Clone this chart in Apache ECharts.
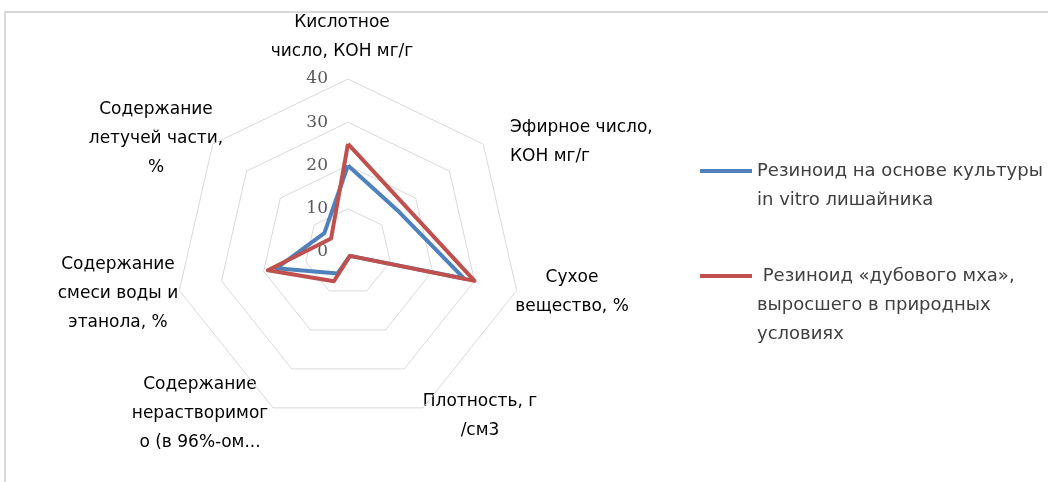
<!DOCTYPE html>
<html>
<head>
<meta charset="utf-8">
<script src="https://cdn.jsdelivr.net/npm/echarts@6/dist/echarts.min.js"></script>
<style>
  html, body { margin: 0; padding: 0; background: #ffffff; }
  #chart { width: 1048px; height: 482px; }
</style>
</head>
<body>
<div id="chart"></div>
<script>
// Radar axes, listed clockwise from the top
var categories = [
  'Кислотное\nчисло, КОН мг/г',
  'Эфирное число,\nКОН мг/г',
  'Сухое\nвещество, %',
  'Плотность, г\n/см3',
  'Содержание\nнерастворимог\nо (в 96%-ом...',
  'Содержание\nсмеси воды и\nэтанола, %',
  'Содержание\nлетучей части,\n%'
];

var seriesNames = [
  'Резиноид на основе культуры\nin vitro лишайника',
  ' Резиноид «дубового мха»,\nвыросшего в природных\nусловиях'
];

var invitroValues = [20, 15, 27.5, 1, 5.5, 17, 7];
var oakmossValues = [25, 17, 30, 1, 7.5, 19, 5];

var axisMin = 0;
var axisMax = 40;
var axisSplits = 4;

// Category label placement: [anchor x, first line centre y, align]
var labelLayout = [
  [342, 23, 'center'],
  [510, 128, 'left'],
  [572, 278, 'center'],
  [480, 402, 'center'],
  [200, 385, 'center'],
  [118, 265, 'center'],
  [156, 110, 'center']
];

var LINE_H = 29;
var LABEL_FONT = '17px "DejaVu Sans"';

// ECharts lays radar indicators out counter-clockwise, so reverse all but the first
var order = [0];
for (var i = categories.length - 1; i >= 1; i--) order.push(i);
function reorder(arr) { return order.map(function (k) { return arr[k]; }); }

var tickLabelStyle = {
  show: true,
  margin: 20,
  color: '#595959',
  fontFamily: 'DejaVu Serif',
  fontSize: 17
};

var indicators = reorder(categories).map(function (name, idx) {
  var ind = { name: name, min: axisMin, max: axisMax };
  if (idx === 0) ind.axisLabel = tickLabelStyle;
  return ind;
});

var graphics = [
  {
    type: 'rect',
    shape: { x: 5, y: 12, width: 1200, height: 600 },
    style: { fill: null, stroke: '#d9d9d9', lineWidth: 2 },
    silent: true
  }
];
categories.forEach(function (name, k) {
  var L = labelLayout[k];
  graphics.push({
    type: 'text',
    x: L[0],
    y: L[1] - LINE_H / 2,
    style: {
      text: name,
      align: L[2],
      verticalAlign: 'top',
      lineHeight: LINE_H,
      font: LABEL_FONT,
      fill: '#000000'
    },
    silent: true
  });
});

var colors = ['#4f81bd', '#c0504d'];

// Legend text is centred on its swatch; leading blank lines keep the
// swatch level with the first line of a wrapped name.
function legendFor(idx, swatchY) {
  var lines = seriesNames[idx].split('\n').length;
  var blank = new Array(lines).join('\n');
  var half = (2 * lines - 1) * LINE_H / 2;
  return {
    data: [seriesNames[idx]],
    left: 700,
    top: swatchY - half,
    padding: 0,
    icon: 'rect',
    itemWidth: 52,
    itemHeight: 4,
    selectedMode: false,
    formatter: function (name) { return blank + name; },
    textStyle: {
      fontFamily: 'DejaVu Sans',
      fontSize: 18,
      color: '#404040',
      lineHeight: LINE_H
    }
  };
}

var option = {
  animation: false,
  color: colors,
  graphic: graphics,
  legend: [
    legendFor(0, 171),
    legendFor(1, 276)
  ],
  radar: {
    center: [348, 252],
    radius: 173,
    startAngle: 90,
    shape: 'polygon',
    splitNumber: axisSplits,
    indicator: indicators,
    axisName: { show: false },
    axisLine: { show: false },
    axisTick: { show: false },
    axisLabel: { show: false },
    splitLine: { lineStyle: { color: '#d9d9d9', width: 1 } },
    splitArea: { show: false }
  },
  series: [{
    type: 'radar',
    symbol: 'none',
    data: [
      {
        name: seriesNames[0],
        value: reorder(invitroValues),
        lineStyle: { color: colors[0], width: 4 },
        itemStyle: { color: colors[0] }
      },
      {
        name: seriesNames[1],
        value: reorder(oakmossValues),
        lineStyle: { color: colors[1], width: 4 },
        itemStyle: { color: colors[1] }
      }
    ]
  }]
};

var chart = echarts.init(document.getElementById('chart'), null, { renderer: 'canvas' });
chart.setOption(option);
</script>
</body>
</html>
